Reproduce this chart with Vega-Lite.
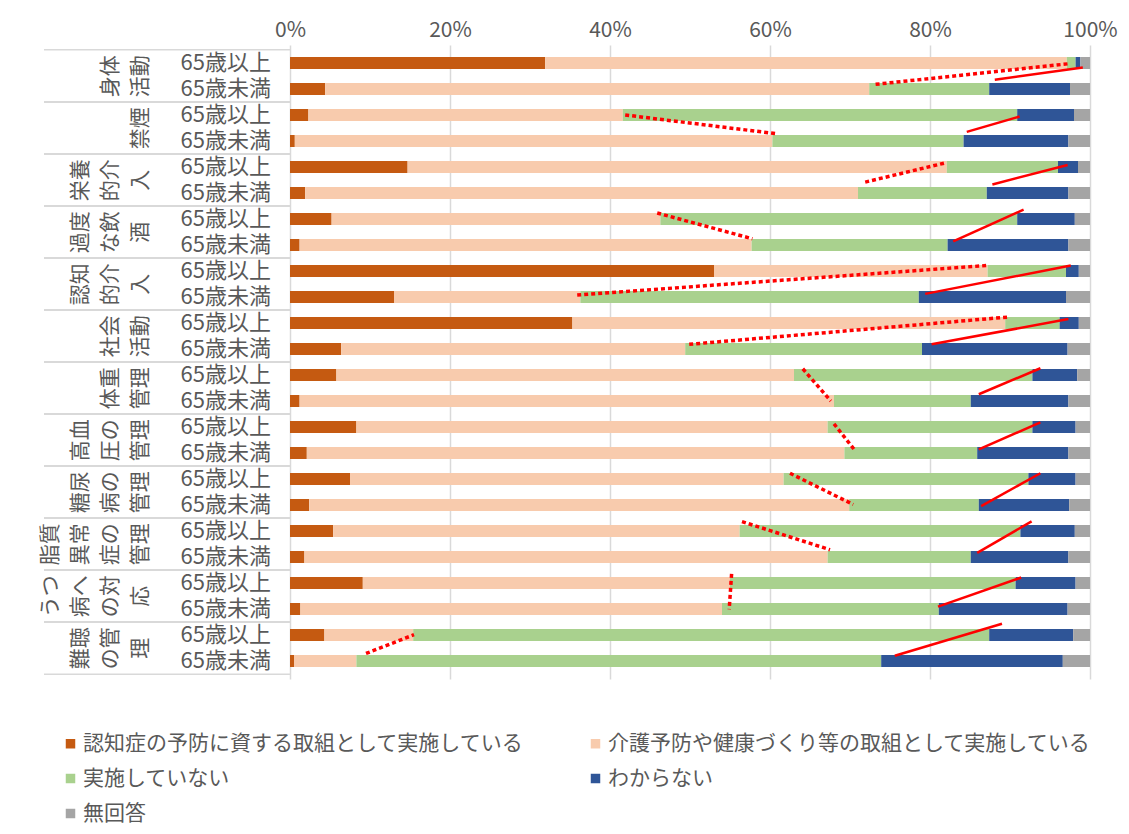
{
  "$schema": "https://vega.github.io/schema/vega-lite/v6.json",
  "background": "white",
  "padding": {"left": 40, "top": 19, "right": 0, "bottom": 0},
  "bounds": "flush",
  "config": {
    "font": "Noto Sans CJK JP",
    "view": {"stroke": null},
    "legend": {
      "orient": "none",
      "direction": "horizontal",
      "legendX": 16,
      "legendY": 688,
      "columns": 2,
      "symbolType": "square",
      "symbolSize": 90,
      "symbolStrokeWidth": 0,
      "labelFontSize": 21,
      "labelColor": "#595959",
      "labelLimit": 700,
      "labelOffset": 2,
      "rowPadding": 13,
      "columnPadding": 61
    }
  },
  "datasets": {
    "categories": [
      {"cat": "認知症の予防に資する取組として実施している", "k": 1},
      {"cat": "介護予防や健康づくり等の取組として実施している", "k": 2},
      {"cat": "実施していない", "k": 3},
      {"cat": "わからない", "k": 4},
      {"cat": "無回答", "k": 5}
    ],
    "rows": [
      {"row": 1, "group": "身体活動", "age": "65歳以上", "認知症の予防に資する取組として実施している": 31.9, "介護予防や健康づくり等の取組として実施している": 65.2, "実施していない": 1.1, "わからない": 0.6, "無回答": 1.2},
      {"row": 2, "group": "身体活動", "age": "65歳未満", "認知症の予防に資する取組として実施している": 4.4, "介護予防や健康づくり等の取組として実施している": 68.0, "実施していない": 15.0, "わからない": 10.1, "無回答": 2.5},
      {"row": 3, "group": "禁煙", "age": "65歳以上", "認知症の予防に資する取組として実施している": 2.3, "介護予防や健康づくり等の取組として実施している": 39.3, "実施していない": 49.3, "わからない": 7.1, "無回答": 2.0},
      {"row": 4, "group": "禁煙", "age": "65歳未満", "認知症の予防に資する取組として実施している": 0.6, "介護予防や健康づくり等の取組として実施している": 59.7, "実施していない": 23.9, "わからない": 13.1, "無回答": 2.7},
      {"row": 5, "group": "栄養的介入", "age": "65歳以上", "認知症の予防に資する取組として実施している": 14.7, "介護予防や健康づくり等の取組として実施している": 67.4, "実施していない": 13.9, "わからない": 2.5, "無回答": 1.5},
      {"row": 6, "group": "栄養的介入", "age": "65歳未満", "認知症の予防に資する取組として実施している": 1.9, "介護予防や健康づくり等の取組として実施している": 69.1, "実施していない": 16.1, "わからない": 10.2, "無回答": 2.7},
      {"row": 7, "group": "過度な飲酒", "age": "65歳以上", "認知症の予防に資する取組として実施している": 5.2, "介護予防や健康づくり等の取組として実施している": 41.1, "実施していない": 44.6, "わからない": 7.2, "無回答": 1.9},
      {"row": 8, "group": "過度な飲酒", "age": "65歳未満", "認知症の予防に資する取組として実施している": 1.2, "介護予防や健康づくり等の取組として実施している": 56.5, "実施していない": 24.5, "わからない": 15.1, "無回答": 2.7},
      {"row": 9, "group": "認知的介入", "age": "65歳以上", "認知症の予防に資する取組として実施している": 53.0, "介護予防や健康づくり等の取組として実施している": 34.2, "実施していない": 9.8, "わからない": 1.6, "無回答": 1.4},
      {"row": 10, "group": "認知的介入", "age": "65歳未満", "認知症の予防に資する取組として実施している": 13.0, "介護予防や健康づくり等の取組として実施している": 23.3, "実施していない": 42.3, "わからない": 18.4, "無回答": 3.0},
      {"row": 11, "group": "社会活動", "age": "65歳以上", "認知症の予防に資する取組として実施している": 35.3, "介護予防や健康づくり等の取組として実施している": 54.1, "実施していない": 6.8, "わからない": 2.4, "無回答": 1.4},
      {"row": 12, "group": "社会活動", "age": "65歳未満", "認知症の予防に資する取組として実施している": 6.4, "介護予防や健康づくり等の取組として実施している": 43.0, "実施していない": 29.6, "わからない": 18.2, "無回答": 2.8},
      {"row": 13, "group": "体重管理", "age": "65歳以上", "認知症の予防に資する取組として実施している": 5.8, "介護予防や健康づくり等の取組として実施している": 57.2, "実施していない": 29.8, "わからない": 5.6, "無回答": 1.6},
      {"row": 14, "group": "体重管理", "age": "65歳未満", "認知症の予防に資する取組として実施している": 1.2, "介護予防や健康づくり等の取組として実施している": 66.8, "実施していない": 17.1, "わからない": 12.2, "無回答": 2.7},
      {"row": 15, "group": "高血圧の管理", "age": "65歳以上", "認知症の予防に資する取組として実施している": 8.3, "介護予防や健康づくり等の取組として実施している": 58.9, "実施していない": 25.6, "わからない": 5.4, "無回答": 1.8},
      {"row": 16, "group": "高血圧の管理", "age": "65歳未満", "認知症の予防に資する取組として実施している": 2.1, "介護予防や健康づくり等の取組として実施している": 67.2, "実施していない": 16.6, "わからない": 11.4, "無回答": 2.7},
      {"row": 17, "group": "糖尿病の管理", "age": "65歳以上", "認知症の予防に資する取組として実施している": 7.5, "介護予防や健康づくり等の取組として実施している": 54.2, "実施していない": 30.6, "わからない": 5.9, "無回答": 1.8},
      {"row": 18, "group": "糖尿病の管理", "age": "65歳未満", "認知症の予防に資する取組として実施している": 2.4, "介護予防や健康づくり等の取組として実施している": 67.5, "実施していない": 16.2, "わからない": 11.3, "無回答": 2.6},
      {"row": 19, "group": "脂質異常症の管理", "age": "65歳以上", "認知症の予防に資する取組として実施している": 5.4, "介護予防や健康づくり等の取組として実施している": 50.8, "実施していない": 35.1, "わからない": 6.8, "無回答": 1.9},
      {"row": 20, "group": "脂質異常症の管理", "age": "65歳未満", "認知症の予防に資する取組として実施している": 1.8, "介護予防や健康づくり等の取組として実施している": 65.4, "実施していない": 17.9, "わからない": 12.2, "無回答": 2.7},
      {"row": 21, "group": "うつ病への対応", "age": "65歳以上", "認知症の予防に資する取組として実施している": 9.1, "介護予防や健康づくり等の取組として実施している": 45.9, "実施していない": 35.7, "わからない": 7.5, "無回答": 1.8},
      {"row": 22, "group": "うつ病への対応", "age": "65歳未満", "認知症の予防に資する取組として実施している": 1.3, "介護予防や健康づくり等の取組として実施している": 52.7, "実施していない": 27.1, "わからない": 16.1, "無回答": 2.8},
      {"row": 23, "group": "難聴の管理", "age": "65歳以上", "認知症の予防に資する取組として実施している": 4.3, "介護予防や健康づくり等の取組として実施している": 11.1, "実施していない": 72.0, "わからない": 10.5, "無回答": 2.1},
      {"row": 24, "group": "難聴の管理", "age": "65歳未満", "認知症の予防に資する取組として実施している": 0.5, "介護予防や健康づくり等の取組として実施している": 7.8, "実施していない": 65.6, "わからない": 22.7, "無回答": 3.4}
    ],
    "groups": [
      {"group": "身体活動", "label": "身体\n活動", "first": 1, "last": 2},
      {"group": "禁煙", "label": "禁煙", "first": 3, "last": 4},
      {"group": "栄養的介入", "label": "栄養\n的介\n入", "first": 5, "last": 6},
      {"group": "過度な飲酒", "label": "過度\nな飲\n酒", "first": 7, "last": 8},
      {"group": "認知的介入", "label": "認知\n的介\n入", "first": 9, "last": 10},
      {"group": "社会活動", "label": "社会\n活動", "first": 11, "last": 12},
      {"group": "体重管理", "label": "体重\n管理", "first": 13, "last": 14},
      {"group": "高血圧の管理", "label": "高血\n圧の\n管理", "first": 15, "last": 16},
      {"group": "糖尿病の管理", "label": "糖尿\n病の\n管理", "first": 17, "last": 18},
      {"group": "脂質異常症の管理", "label": "脂質\n異常\n症の\n管理", "first": 19, "last": 20},
      {"group": "うつ病への対応", "label": "うつ\n病へ\nの対\n応", "first": 21, "last": 22},
      {"group": "難聴の管理", "label": "難聴\nの管\n理", "first": 23, "last": 24}
    ],
    "links": [
      {"group": "身体活動", "kind": "dotted", "x1": 73.2, "y1": 1.82, "x2": 97.3, "y2": 1.03},
      {"group": "身体活動", "kind": "solid", "x1": 88.1, "y1": 1.64, "x2": 99.1, "y2": 1.17},
      {"group": "禁煙", "kind": "dotted", "x1": 41.9, "y1": 3.0, "x2": 60.8, "y2": 3.72},
      {"group": "禁煙", "kind": "solid", "x1": 84.6, "y1": 3.65, "x2": 91.2, "y2": 3.06},
      {"group": "栄養的介入", "kind": "dotted", "x1": 71.9, "y1": 5.58, "x2": 81.8, "y2": 4.85},
      {"group": "栄養的介入", "kind": "solid", "x1": 87.8, "y1": 5.67, "x2": 97.2, "y2": 4.92},
      {"group": "過度な飲酒", "kind": "dotted", "x1": 45.9, "y1": 6.77, "x2": 57.8, "y2": 7.76},
      {"group": "過度な飲酒", "kind": "solid", "x1": 82.9, "y1": 7.86, "x2": 91.7, "y2": 6.64},
      {"group": "認知的介入", "kind": "dotted", "x1": 35.9, "y1": 9.92, "x2": 87.1, "y2": 8.79},
      {"group": "認知的介入", "kind": "solid", "x1": 79.4, "y1": 9.88, "x2": 97.6, "y2": 8.79},
      {"group": "社会活動", "kind": "dotted", "x1": 49.9, "y1": 11.82, "x2": 89.8, "y2": 10.77},
      {"group": "社会活動", "kind": "solid", "x1": 80.2, "y1": 11.82, "x2": 97.3, "y2": 10.85},
      {"group": "体重管理", "kind": "dotted", "x1": 64.1, "y1": 12.76, "x2": 67.6, "y2": 14.0},
      {"group": "体重管理", "kind": "solid", "x1": 86.1, "y1": 13.74, "x2": 93.8, "y2": 12.74},
      {"group": "高血圧の管理", "kind": "dotted", "x1": 68.0, "y1": 14.88, "x2": 70.7, "y2": 15.93},
      {"group": "高血圧の管理", "kind": "solid", "x1": 86.1, "y1": 15.86, "x2": 93.8, "y2": 14.82},
      {"group": "糖尿病の管理", "kind": "dotted", "x1": 62.5, "y1": 16.78, "x2": 70.4, "y2": 17.98},
      {"group": "糖尿病の管理", "kind": "solid", "x1": 86.4, "y1": 18.04, "x2": 93.8, "y2": 16.78},
      {"group": "脂質異常症の管理", "kind": "dotted", "x1": 56.5, "y1": 18.64, "x2": 67.5, "y2": 19.72},
      {"group": "脂質異常症の管理", "kind": "solid", "x1": 85.9, "y1": 19.84, "x2": 92.7, "y2": 18.63},
      {"group": "うつ病への対応", "kind": "dotted", "x1": 55.2, "y1": 20.65, "x2": 54.9, "y2": 22.01},
      {"group": "うつ病への対応", "kind": "solid", "x1": 81.0, "y1": 21.91, "x2": 91.4, "y2": 20.79},
      {"group": "難聴の管理", "kind": "dotted", "x1": 9.5, "y1": 23.71, "x2": 15.5, "y2": 22.99},
      {"group": "難聴の管理", "kind": "solid", "x1": 75.6, "y1": 23.8, "x2": 89.0, "y2": 22.57}
    ]
  },
  "hconcat": [
    {
      "width": 117,
      "height": 634,
      "data": {"name": "groups"},
      "layer": [
        {
          "mark": {"type": "rule", "color": "#d9d9d9", "strokeWidth": 1.5, "yOffset": -13.21},
          "encoding": {"y": {"field": "first", "type": "quantitative", "scale": {"domain": [0.5, 24.5], "reverse": true, "nice": false, "zero": false}, "axis": null}}
        },
        {
          "mark": {"type": "rule", "color": "#d9d9d9", "strokeWidth": 1.5, "yOffset": 13.21},
          "encoding": {"y": {"field": "last", "type": "quantitative", "scale": {"domain": [0.5, 24.5], "reverse": true, "nice": false, "zero": false}, "axis": null}}
        },
        {
          "transform": [{"filter": "length(split(datum.label, '\\n')) == 1"}],
          "mark": {"type": "text", "angle": 270, "align": "center", "baseline": "bottom", "lineBreak": "\n", "lineHeight": 30, "fontSize": 21, "color": "#595959", "dx": -13.21, "dy": -10},
          "encoding": {
            "y": {"field": "first", "type": "quantitative", "scale": {"domain": [0.5, 24.5], "reverse": true, "nice": false, "zero": false}, "axis": null},
            "x": {"datum": 1, "type": "quantitative", "scale": {"domain": [0, 1]}, "axis": null},
            "text": {"field": "label", "type": "nominal"}
          }
        },
        {
          "transform": [{"filter": "length(split(datum.label, '\\n')) == 2"}],
          "mark": {"type": "text", "angle": 270, "align": "center", "baseline": "bottom", "lineBreak": "\n", "lineHeight": 30, "fontSize": 21, "color": "#595959", "dx": -13.21, "dy": -40},
          "encoding": {
            "y": {"field": "first", "type": "quantitative", "scale": {"domain": [0.5, 24.5], "reverse": true, "nice": false, "zero": false}, "axis": null},
            "x": {"datum": 1, "type": "quantitative", "scale": {"domain": [0, 1]}, "axis": null},
            "text": {"field": "label", "type": "nominal"}
          }
        },
        {
          "transform": [{"filter": "length(split(datum.label, '\\n')) == 3"}],
          "mark": {"type": "text", "angle": 270, "align": "center", "baseline": "bottom", "lineBreak": "\n", "lineHeight": 30, "fontSize": 21, "color": "#595959", "dx": -13.21, "dy": -70},
          "encoding": {
            "y": {"field": "first", "type": "quantitative", "scale": {"domain": [0.5, 24.5], "reverse": true, "nice": false, "zero": false}, "axis": null},
            "x": {"datum": 1, "type": "quantitative", "scale": {"domain": [0, 1]}, "axis": null},
            "text": {"field": "label", "type": "nominal"}
          }
        },
        {
          "transform": [{"filter": "length(split(datum.label, '\\n')) == 4"}],
          "mark": {"type": "text", "angle": 270, "align": "center", "baseline": "bottom", "lineBreak": "\n", "lineHeight": 30, "fontSize": 21, "color": "#595959", "dx": -13.21, "dy": -100},
          "encoding": {
            "y": {"field": "first", "type": "quantitative", "scale": {"domain": [0.5, 24.5], "reverse": true, "nice": false, "zero": false}, "axis": null},
            "x": {"datum": 1, "type": "quantitative", "scale": {"domain": [0, 1]}, "axis": null},
            "text": {"field": "label", "type": "nominal"}
          }
        }
      ]
    },
    {
      "width": 129,
      "height": 634,
      "layer": [
        {
          "data": {"name": "groups"},
          "mark": {"type": "rule", "color": "#d9d9d9", "strokeWidth": 1.5, "yOffset": -13.21},
          "encoding": {"y": {"field": "first", "type": "quantitative", "scale": {"domain": [0.5, 24.5], "reverse": true, "nice": false, "zero": false}, "axis": null}}
        },
        {
          "data": {"name": "groups"},
          "mark": {"type": "rule", "color": "#d9d9d9", "strokeWidth": 1.5, "yOffset": 13.21},
          "encoding": {"y": {"field": "last", "type": "quantitative", "scale": {"domain": [0.5, 24.5], "reverse": true, "nice": false, "zero": false}, "axis": null}}
        },
        {
          "data": {"name": "rows"},
          "mark": {"type": "text", "align": "right", "baseline": "middle", "fontSize": 22, "color": "#595959", "dx": -19},
          "encoding": {
            "y": {"field": "row", "type": "quantitative", "scale": {"domain": [0.5, 24.5], "reverse": true, "nice": false, "zero": false}, "axis": null},
            "x": {"datum": 1, "type": "quantitative", "scale": {"domain": [0, 1]}, "axis": null},
            "text": {"field": "age", "type": "nominal"}
          }
        }
      ]
    },
    {
      "width": 800,
      "height": 634,
      "layer": [
        {
          "data": {"name": "rows"},
          "transform": [
            {"fold": ["認知症の予防に資する取組として実施している", "介護予防や健康づくり等の取組として実施している", "実施していない", "わからない", "無回答"], "as": ["cat", "pct"]},
            {"lookup": "cat", "from": {"data": {"name": "categories"}, "key": "cat", "fields": ["k"]}}
          ],
          "mark": {"type": "bar", "orient": "horizontal", "size": 12},
          "encoding": {
            "y": {"field": "row", "type": "quantitative", "scale": {"domain": [0.5, 24.5], "reverse": true, "nice": false, "zero": false}, "axis": null},
            "x": {
              "field": "pct",
              "type": "quantitative",
              "stack": "zero",
              "scale": {"domain": [0, 100], "nice": false},
              "axis": {
                "orient": "top",
                "values": [0, 20, 40, 60, 80, 100],
                "labelExpr": "datum.value + '%'",
                "labelFontSize": 21,
                "labelColor": "#595959",
                "labelPadding": 5,
                "labelFlush": false,
                "ticks": false,
                "domain": false,
                "grid": true,
                "gridColor": "#d9d9d9",
                "gridWidth": 1.5,
                "title": null
              }
            },
            "order": {"field": "k", "type": "quantitative", "sort": "ascending"},
            "color": {
              "field": "cat",
              "type": "nominal",
              "scale": {
                "domain": ["認知症の予防に資する取組として実施している", "介護予防や健康づくり等の取組として実施している", "実施していない", "わからない", "無回答"],
                "range": ["#C55A11", "#F8CBAD", "#A9D18E", "#2F5597", "#A5A5A5"]
              },
              "legend": {"title": null}
            }
          }
        },
        {
          "data": {"name": "links"},
          "transform": [{"filter": "datum.kind === 'dotted'"}],
          "mark": {"type": "rule", "color": "#FF0000", "strokeWidth": 3.5, "strokeDash": [4, 3], "strokeCap": "butt"},
          "encoding": {
            "x": {"field": "x1", "type": "quantitative"},
            "x2": {"field": "x2"},
            "y": {"field": "y1", "type": "quantitative", "scale": {"domain": [0.5, 24.5], "reverse": true, "nice": false, "zero": false}},
            "y2": {"field": "y2"}
          }
        },
        {
          "data": {"name": "links"},
          "transform": [{"filter": "datum.kind === 'solid'"}],
          "mark": {"type": "rule", "color": "#FF0000", "strokeWidth": 2.5},
          "encoding": {
            "x": {"field": "x1", "type": "quantitative"},
            "x2": {"field": "x2"},
            "y": {"field": "y1", "type": "quantitative", "scale": {"domain": [0.5, 24.5], "reverse": true, "nice": false, "zero": false}},
            "y2": {"field": "y2"}
          }
        }
      ]
    }
  ],
  "spacing": 0,
  "resolve": {
    "scale": {"y": "shared", "x": "independent"},
    "axis": {"y": "independent", "x": "independent"}
  }
}
